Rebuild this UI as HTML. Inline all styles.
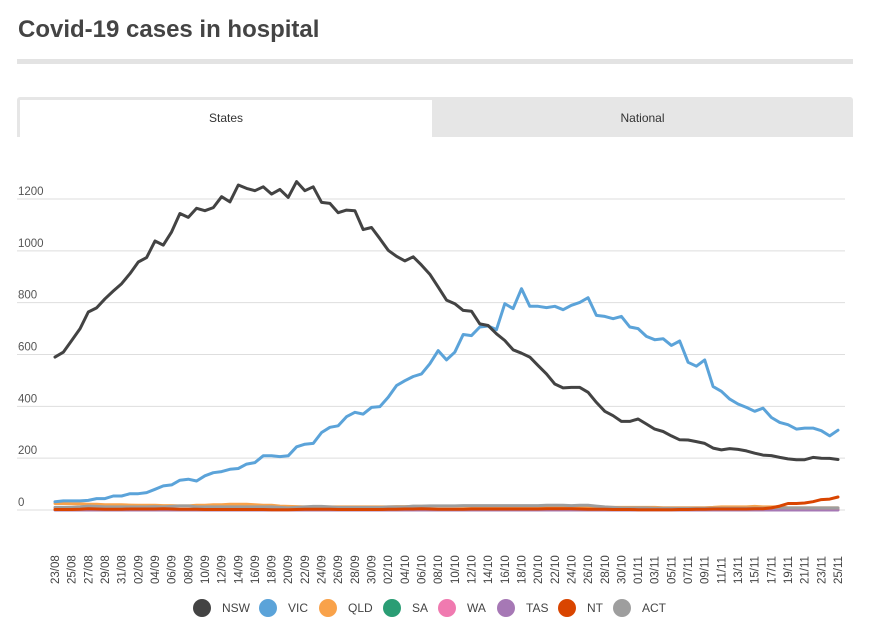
<!DOCTYPE html>
<html><head><meta charset="utf-8">
<style>
body{margin:0;background:#fff;font-family:"Liberation Sans",sans-serif;}
#wrap{position:relative;width:873px;height:627px;overflow:hidden;}
h1{position:absolute;left:18px;top:16px;margin:0;font-size:24px;font-weight:bold;color:#444;letter-spacing:0px;}
.bar{position:absolute;left:17px;top:59px;width:836px;height:5px;background:#e3e3e3;}
.tabs{position:absolute;left:17px;top:97px;width:836px;height:40px;background:#e6e6e6;border-radius:3px 3px 0 0;}
.tab{position:absolute;top:3px;height:37px;line-height:37px;text-align:center;font-size:12px;color:#333;}
</style></head><body>
<div id="wrap">
<h1>Covid-19 cases in hospital</h1>
<div class="bar"></div>
<div class="tabs">
<div class="tab" style="left:3px;width:412px;background:#fff;">States</div>
<div class="tab" style="left:415px;width:421px;">National</div>
</div>
<svg id="chart" width="873" height="627" style="position:absolute;left:0;top:0"></svg>
</div>
<script>
const startDay = new Date(2020,7,23);
const yTicks = [0,200,400,600,800,1000,1200];
const seriesNames = ["NSW","VIC","QLD","SA","WA","TAS","NT","ACT"];
const seriesColors = ["#434343","#5ba3d9","#f9a24a","#2a9d74","#f07ab0","#a678b5","#d94500","#9e9e9e"];
const nsw = [590,609,654,699,764,780,815,845,873,912,957,974,1038,1022,1073,1144,1129,1164,1155,1167,1209,1189,1254,1241,1232,1247,1219,1237,1206,1267,1232,1247,1187,1183,1147,1157,1155,1082,1090,1047,1002,979,961,977,945,910,860,810,796,770,767,718,712,680,654,618,605,590,557,525,486,471,473,473,454,415,381,364,342,342,351,332,312,303,286,271,270,264,257,239,232,237,234,228,219,212,210,203,197,194,194,203,200,199,195];
const vic = [32,35,35,35,37,44,44,54,54,63,63,67,80,93,97,115,119,112,132,144,148,157,160,177,183,209,209,206,209,244,254,257,299,319,325,360,377,370,396,399,435,480,499,515,525,564,615,579,609,677,673,706,710,696,796,777,854,786,786,781,786,773,790,801,819,751,747,738,747,706,700,670,657,661,635,652,570,555,579,476,458,428,409,396,381,393,357,338,329,312,316,316,306,286,308];
const qld = [25,25,24,24,22,22,20,20,20,19,18,18,18,17,17,16,16,18,18,20,20,22,22,22,20,18,18,15,14,13,12,12,12,12,12,12,12,12,12,12,12,13,13,14,14,15,15,15,15,15,15,15,14,14,14,14,14,14,12,12,12,12,12,12,10,10,10,10,10,10,10,10,10,9,9,9,9,9,9,10,12,12,12,12,14,12,12,12,8,8,8,8,8,8,8];
const sa = [2,2,2,2,2,2,2,2,2,2,2,2,2,2,2,2,2,2,2,2,2,2,2,2,2,2,2,2,2,2,2,2,2,2,2,2,2,2,2,2,2,2,2,2,2,2,2,2,2,2,2,2,2,2,2,2,2,2,2,2,2,2,2,2,2,2,2,2,2,2,2,2,2,2,2,2,2,2,2,2,2,2,2,2,2,2,2,2,2,2,2,2,2,2,2];
const wa = [1,1,1,1,1,1,1,1,1,1,1,1,1,1,1,1,1,1,1,1,1,1,1,1,1,1,1,1,1,1,1,1,1,1,1,1,1,1,1,1,1,1,1,1,1,1,1,1,1,1,1,1,1,1,1,1,1,1,1,1,1,1,1,1,1,1,1,1,1,1,1,1,1,1,1,1,1,1,1,1,1,1,1,1,1,1,1,1,1,1,1,1,1,1,1];
const tas = [0,0,0,0,0,0,0,0,0,0,0,0,0,0,0,0,0,0,0,0,0,0,0,0,0,0,0,0,0,0,0,0,0,0,0,0,0,0,0,0,0,0,0,0,0,0,0,0,0,0,0,0,0,0,0,0,0,0,0,0,0,0,0,0,0,0,0,0,0,0,0,0,0,0,0,0,0,0,0,0,0,0,0,0,0,0,0,0,0,0,0,0,0,0,0];
const nt = [2,2,2,3,5,4,3,3,3,4,4,4,4,5,4,3,3,3,2,2,2,2,2,2,2,2,1,1,1,2,3,3,3,3,2,2,2,2,2,2,3,3,4,4,5,4,3,3,3,3,4,4,4,4,4,4,4,4,4,5,5,5,5,4,3,3,3,2,2,2,1,1,1,1,1,2,2,3,3,4,4,4,4,4,5,5,8,15,25,25,27,32,40,42,50];
const act = [10,10,10,12,15,14,12,12,12,12,12,12,13,12,14,16,16,12,12,12,12,12,12,12,12,12,12,10,8,10,12,14,14,12,10,10,10,10,10,10,12,12,12,15,15,16,16,16,16,17,17,17,17,17,17,17,17,17,17,18,18,18,17,18,18,15,12,10,8,8,8,8,7,7,7,7,7,7,7,7,7,7,7,7,7,7,8,8,8,8,8,8,8,8,8];
const seriesData = [nsw,vic,qld,sa,wa,tas,nt,act];

const NS="http://www.w3.org/2000/svg";
const svg=document.getElementById('chart');
const x0=55,x1=838,yBase=510,yTop=199;
const xAt=i=>x0+(x1-x0)*i/(nsw.length-1);
const yAt=v=>yBase-(yBase-yTop)*v/1200;
function mk(tag,attrs,parent){const e=document.createElementNS(NS,tag);for(const k in attrs)e.setAttribute(k,attrs[k]);(parent||svg).appendChild(e);return e;}

yTicks.forEach(t=>{
  const l=mk('line',{x1:17,x2:845,y1:yAt(t),y2:yAt(t),stroke:'#dedede','stroke-width':1});
  
  
  const tx=mk('text',{x:18,y:yAt(t)-4,'font-size':11.5,fill:'#555','font-family':'Liberation Sans, sans-serif'});
  tx.textContent=t;
  
  
});

for(let i=0;i<nsw.length;i+=2){
  const d=new Date(startDay);d.setDate(d.getDate()+i);
  const lab=String(d.getDate()).padStart(2,'0')+'/'+String(d.getMonth()+1).padStart(2,'0');
  const x=xAt(i)+4;
  const tx=mk('text',{x:x,y:584,'font-size':11.5,fill:'#444','font-family':'Liberation Sans, sans-serif',transform:`rotate(-90 ${x} 584)`});
  tx.textContent=lab;
  
  
}

[3,4,5,2,7,6,1,0].forEach(s=>{
  const pts=seriesData[s].map((v,i)=>xAt(i).toFixed(1)+','+yAt(v).toFixed(1)).join(' ');
  const p=mk('polyline',{points:pts,fill:'none',stroke:seriesColors[s],'stroke-width':3,'stroke-linejoin':'round','stroke-linecap':'round'});
  
  
});

const legendCircleX=[202,268,328,392,447,506,567,622];
seriesNames.forEach((n,i)=>{
  const g=mk('g',{});
  
  
  mk('circle',{cx:legendCircleX[i],cy:608,r:9,fill:seriesColors[i]},g);
  const t=mk('text',{x:legendCircleX[i]+20,y:612,'font-size':12,fill:'#444','font-family':'Liberation Sans, sans-serif'},g);
  t.textContent=n;
});
</script>
</body></html>
